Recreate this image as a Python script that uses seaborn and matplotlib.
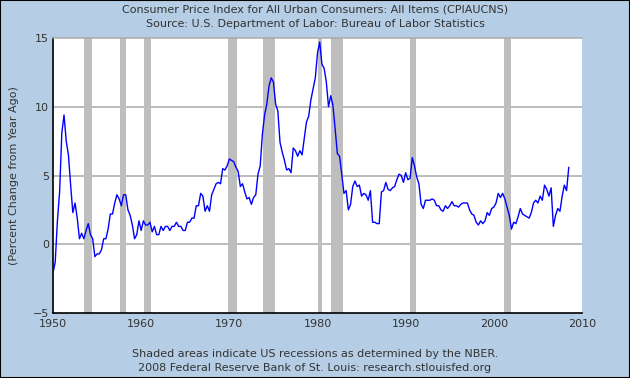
import numpy as np
import pandas as pd
import matplotlib
matplotlib.use("Agg")
import matplotlib.pyplot as plt
import seaborn as sns

# CPI-U, percent change from year ago, read quarterly (Jan, Apr, Jul, Oct) off the chart
first_year = 1950
cpi_yoy = [
    -2.1, -1.3, 1.7, 3.8,     # 1950
    8.1, 9.4, 7.5, 6.5,       # 1951
    4.3, 2.3, 3.0, 1.9,       # 1952
    0.4, 0.8, 0.4, 1.0,       # 1953
    1.5, 0.7, 0.4, -0.9,      # 1954
    -0.7, -0.7, -0.4, 0.4,    # 1955
    0.4, 1.1, 2.2, 2.2,       # 1956
    3.0, 3.6, 3.3, 2.8,       # 1957
    3.6, 3.6, 2.5, 2.1,       # 1958
    1.4, 0.4, 0.7, 1.7,       # 1959
    1.0, 1.7, 1.4, 1.4,       # 1960
    1.6, 0.9, 1.3, 0.7,       # 1961
    0.7, 1.3, 1.0, 1.3,       # 1962
    1.3, 1.0, 1.3, 1.3,       # 1963
    1.6, 1.3, 1.3, 1.0,       # 1964
    1.0, 1.6, 1.6, 1.9,       # 1965
    1.9, 2.8, 2.8, 3.7,       # 1966
    3.5, 2.4, 2.8, 2.4,       # 1967
    3.6, 4.0, 4.4, 4.5,       # 1968
    4.4, 5.5, 5.4, 5.7,       # 1969
    6.2, 6.1, 6.0, 5.6,       # 1970
    5.3, 4.2, 4.4, 3.8,       # 1971
    3.3, 3.4, 2.9, 3.4,       # 1972
    3.6, 5.1, 5.7, 8.0,       # 1973
    9.4, 10.2, 11.5, 12.1,    # 1974
    11.8, 10.2, 9.7, 7.4,     # 1975
    6.7, 6.1, 5.4, 5.5,       # 1976
    5.2, 7.0, 6.8, 6.4,       # 1977
    6.8, 6.5, 7.7, 8.9,       # 1978
    9.3, 10.5, 11.3, 12.1,    # 1979
    13.9, 14.7, 13.1, 12.8,   # 1980
    11.8, 10.0, 10.8, 10.1,   # 1981
    8.4, 6.6, 6.4, 5.1,       # 1982
    3.7, 3.9, 2.5, 2.9,       # 1983
    4.2, 4.6, 4.2, 4.3,       # 1984
    3.5, 3.7, 3.6, 3.2,       # 1985
    3.9, 1.6, 1.6, 1.5,       # 1986
    1.5, 3.8, 3.9, 4.5,       # 1987
    4.0, 3.9, 4.1, 4.2,       # 1988
    4.7, 5.1, 5.0, 4.5,       # 1989
    5.2, 4.7, 4.8, 6.3,       # 1990
    5.7, 4.9, 4.4, 2.9,       # 1991
    2.6, 3.2, 3.2, 3.2,       # 1992
    3.3, 3.2, 2.8, 2.8,       # 1993
    2.5, 2.4, 2.8, 2.6,       # 1994
    2.8, 3.1, 2.8, 2.8,       # 1995
    2.7, 2.9, 3.0, 3.0,       # 1996
    3.0, 2.5, 2.2, 2.1,       # 1997
    1.6, 1.4, 1.7, 1.5,       # 1998
    1.7, 2.3, 2.1, 2.6,       # 1999
    2.7, 3.0, 3.7, 3.4,       # 2000
    3.7, 3.3, 2.7, 2.1,       # 2001
    1.1, 1.6, 1.5, 2.0,       # 2002
    2.6, 2.2, 2.1, 2.0,       # 2003
    1.9, 2.3, 3.0, 3.2,       # 2004
    3.0, 3.5, 3.2, 4.3,       # 2005
    4.0, 3.5, 4.1, 1.3,       # 2006
    2.1, 2.6, 2.4, 3.5,       # 2007
    4.3, 3.9, 5.6,            # 2008
]

# NBER recessions (decimal years)
rec_start = [1953.5, 1957.6, 1960.3, 1969.9, 1973.85, 1980.0, 1981.5, 1990.5, 2001.2]
rec_end = [1954.4, 1958.3, 1961.1, 1970.9, 1975.2, 1980.5, 1982.9, 1991.2, 2001.9]

x_ticks = [1950, 1960, 1970, 1980, 1990, 2000, 2010]
y_ticks = [-5, 0, 5, 10, 15]

df = pd.DataFrame({
    "year": first_year + np.arange(len(cpi_yoy)) * 0.25,
    "pct": cpi_yoy,
})

bg = "#B5CDE5"
txt = "#333333"

sns.set_theme(style="white")
plt.rcParams["font.family"] = ["DejaVu Sans"]

fig = plt.figure(figsize=(6.3, 3.78), dpi=100, facecolor=bg)
ax = fig.add_axes([53 / 630, 65 / 378, 529 / 630, 275 / 378])
ax.set_facecolor("white")

for s, e in zip(rec_start, rec_end):
    ax.axvspan(s, e, color="#BEBEBE", lw=0, zorder=2)

for yv in [0, 5, 10]:
    ax.axhline(yv, color="#AAAAAA", lw=1.1, zorder=1)

sns.lineplot(data=df, x="year", y="pct", ax=ax, color="#0000FF", lw=1.0, zorder=3)

ax.set_xlim(1950, 2010)
ax.set_ylim(-5, 15)
ax.set_xticks(x_ticks)
ax.set_yticks(y_ticks)
ax.tick_params(direction="in", length=5, width=1, color="black",
               labelsize=8, labelcolor=txt, pad=3)
ax.tick_params(axis="x", pad=4)
ax.set_xlabel("")
ax.set_ylabel("(Percent Change from Year Ago)", fontsize=8, color=txt, labelpad=10)

for side in ["left", "bottom"]:
    ax.spines[side].set_color("black")
    ax.spines[side].set_linewidth(1.2)
ax.spines["top"].set_color("#AAAAAA")
ax.spines["top"].set_linewidth(1.1)
ax.spines["right"].set_visible(False)

fig.text(0.5, 1 - 10 / 378, "Consumer Price Index for All Urban Consumers: All Items (CPIAUCNS)",
         ha="center", va="center", fontsize=8, color=txt)
fig.text(0.5, 1 - 24 / 378, "Source: U.S. Department of Labor: Bureau of Labor Statistics",
         ha="center", va="center", fontsize=8, color=txt)
fig.text(0.5, 1 - 354 / 378, "Shaded areas indicate US recessions as determined by the NBER.",
         ha="center", va="center", fontsize=8, color=txt)
fig.text(0.5, 1 - 368 / 378, "2008 Federal Reserve Bank of St. Louis: research.stlouisfed.org",
         ha="center", va="center", fontsize=8, color=txt)

# outer border
fig.patches.append(plt.Rectangle((0, 0), 1, 1, transform=fig.transFigure,
                                 fill=False, edgecolor="black", lw=1.5))

fig.savefig("out.png", dpi=100, facecolor=bg)
